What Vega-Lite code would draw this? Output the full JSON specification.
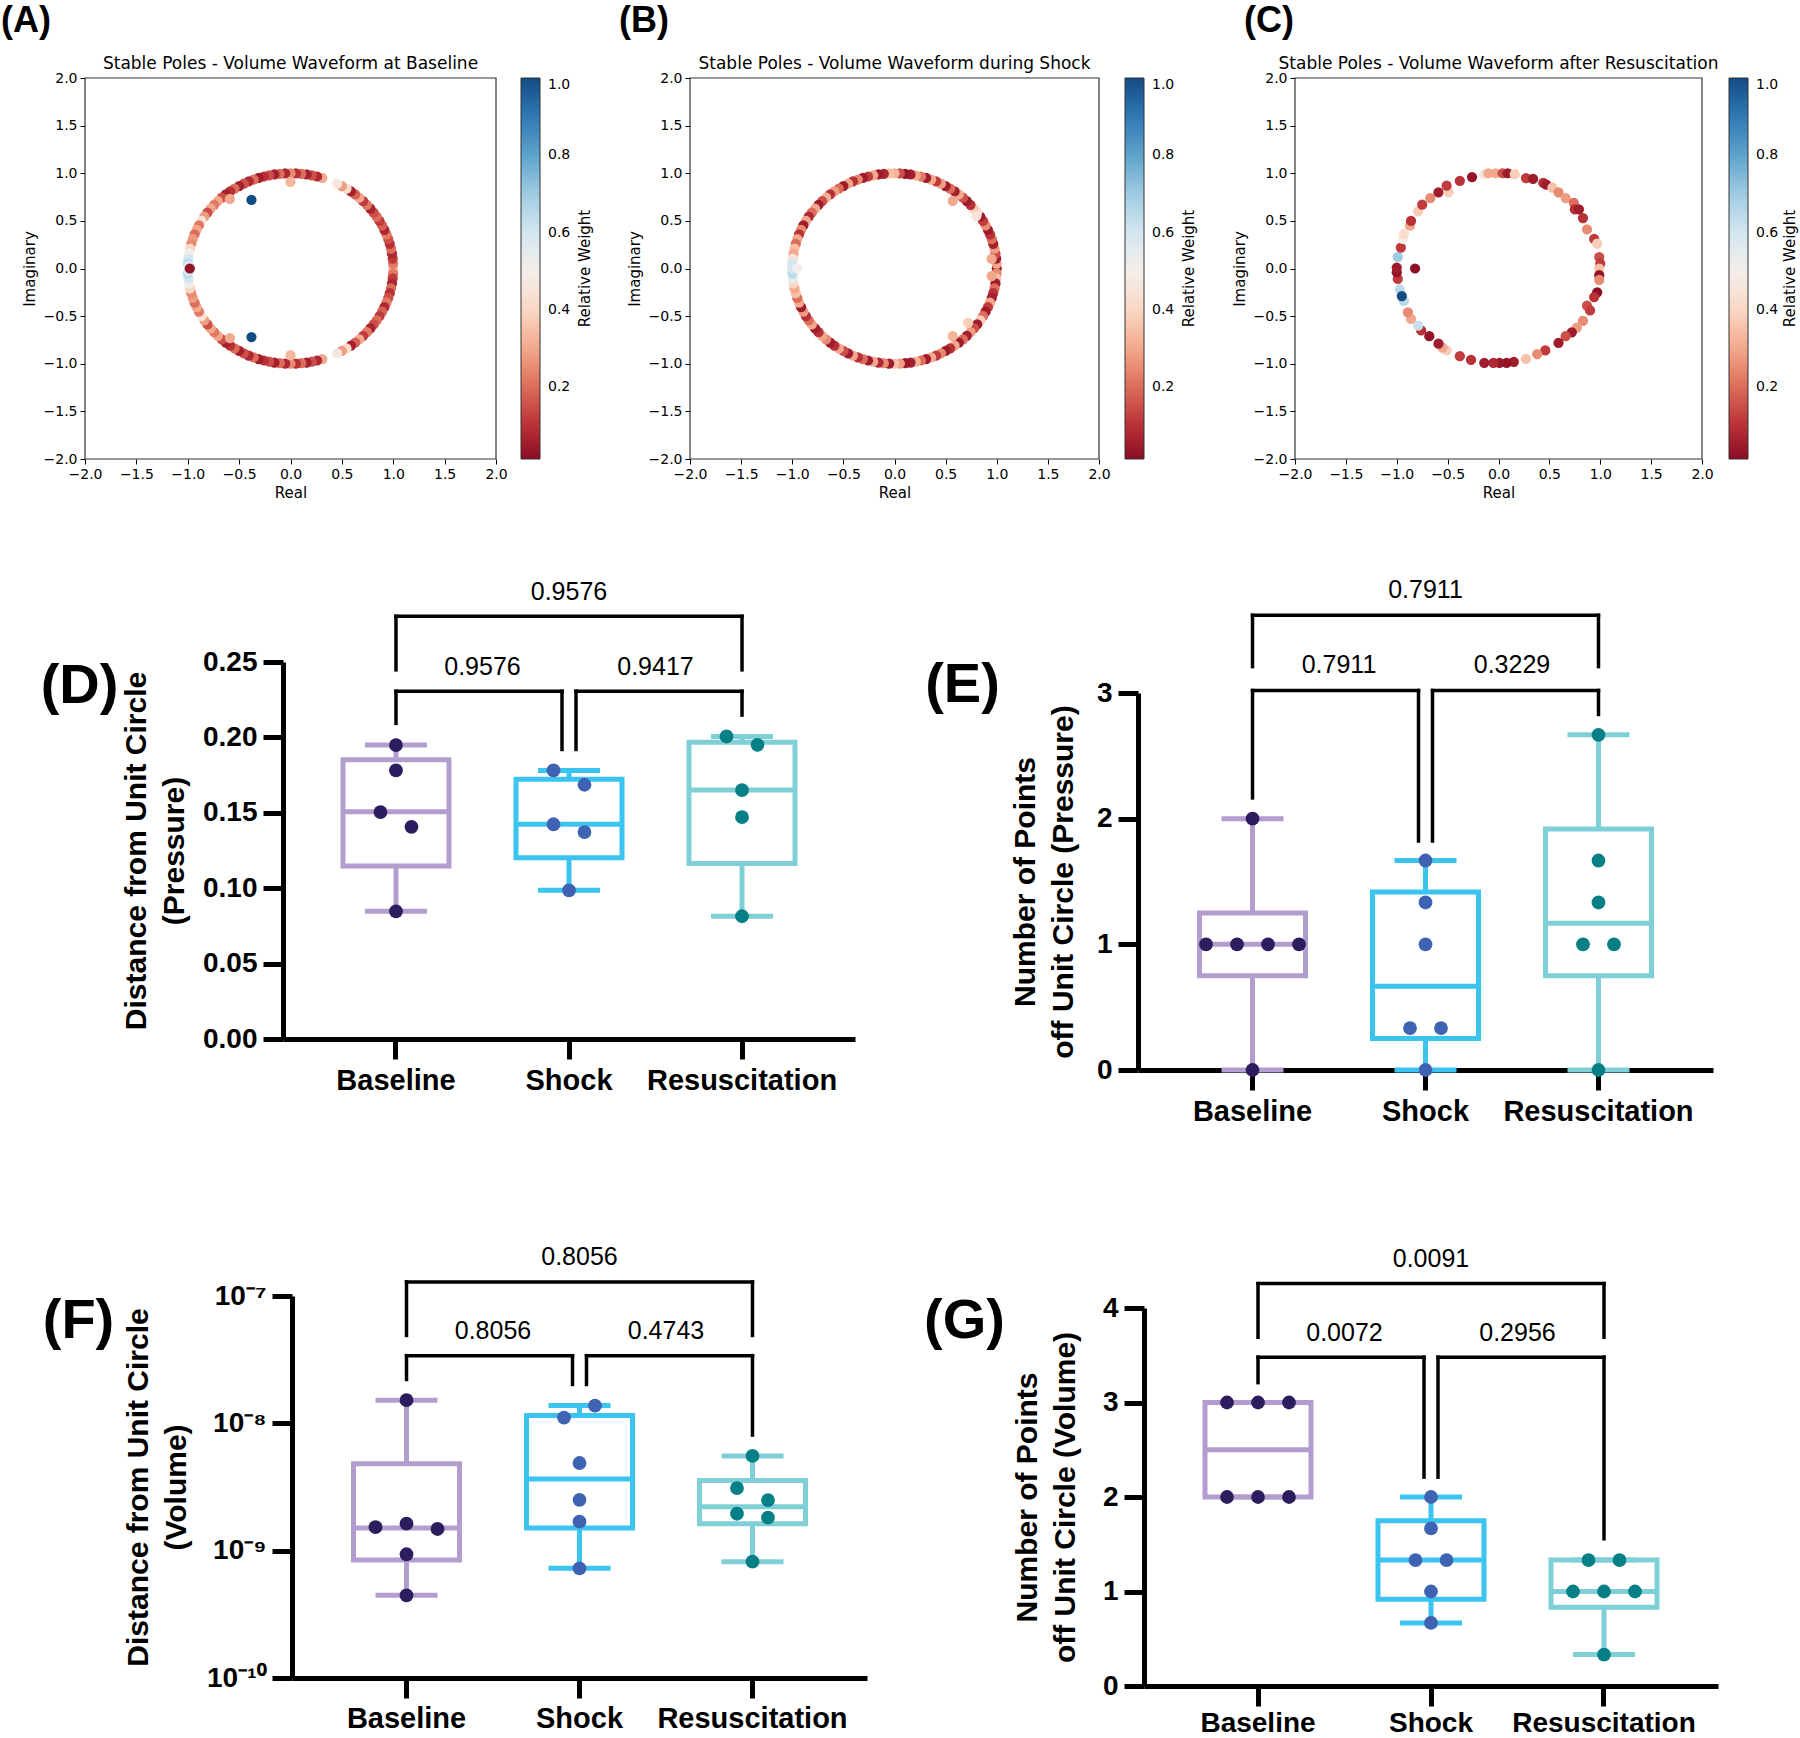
{
"$schema":"https://vega.github.io/schema/vega-lite/v6.json",
"width":1800,"height":1738,"autosize":{"type":"none"},"padding":0,"background":"white",
"config":{"view":{"stroke":null},
 "axis":{"grid":false,"domainColor":"black","domainWidth":5,"tickColor":"black","tickWidth":5,"tickSize":20,"labelFont":"Liberation Sans","labelFontWeight":"bold","labelFontSize":28,"labelColor":"black","labelLimit":0,"titleFont":"Liberation Sans","titleFontWeight":"bold","titleFontSize":30,"titleColor":"black","labelFlush":false,"labelOverlap":false}},
"resolve":{"scale":{"x":"independent","y":"independent","color":"independent","fill":"independent","stroke":"independent","xOffset":"independent"},"axis":{"x":"independent","y":"independent"},"legend":{"color":"independent"}},
"datasets":{
"poles":[
{"p":"A","re":1,"im":0,"w":0.35},
{"p":"A","re":0.9986,"im":0.0523,"w":0.22},{"p":"A","re":0.9945,"im":0.1045,"w":0.12},{"p":"A","re":0.9877,"im":0.1564,"w":0.08},{"p":"A","re":0.9781,"im":0.2079,"w":0.2},{"p":"A","re":0.9659,"im":0.2588,"w":0.1},{"p":"A","re":0.9511,"im":0.309,"w":0.15},{"p":"A","re":0.9336,"im":0.3584,"w":0.22},{"p":"A","re":0.9135,"im":0.4067,"w":0.08},{"p":"A","re":0.891,"im":0.454,"w":0.18},{"p":"A","re":0.866,"im":0.5,"w":0.12},{"p":"A","re":0.8387,"im":0.5446,"w":0.2},{"p":"A","re":0.809,"im":0.5878,"w":0.15},{"p":"A","re":0.7771,"im":0.6293,"w":0.07},{"p":"A","re":0.7431,"im":0.6691,"w":0.22},{"p":"A","re":0.7071,"im":0.7071,"w":0.12},{"p":"A","re":0.6691,"im":0.7431,"w":0.3},{"p":"A","re":0.6293,"im":0.7771,"w":0.18},{"p":"A","re":0.5878,"im":0.809,"w":0.06},{"p":"A","re":0.5446,"im":0.8387,"w":0.42},{"p":"A","re":0.5,"im":0.866,"w":0.28},{"p":"A","re":0.454,"im":0.891,"w":0.47},{"p":"A","re":0.309,"im":0.9511,"w":0.3},{"p":"A","re":0.2588,"im":0.9659,"w":0.08},{"p":"A","re":0.2079,"im":0.9781,"w":0.15},{"p":"A","re":0.1564,"im":0.9877,"w":0.06},{"p":"A","re":0.1045,"im":0.9945,"w":0.2},{"p":"A","re":0.0523,"im":0.9986,"w":0.1},{"p":"A","re":0,"im":1,"w":0.25},{"p":"A","re":-0.0523,"im":0.9986,"w":0.08},{"p":"A","re":-0.1045,"im":0.9945,"w":0.2},{"p":"A","re":-0.1564,"im":0.9877,"w":0.06},{"p":"A","re":-0.2079,"im":0.9781,"w":0.15},{"p":"A","re":-0.2588,"im":0.9659,"w":0.1},{"p":"A","re":-0.309,"im":0.9511,"w":0.05},{"p":"A","re":-0.3584,"im":0.9336,"w":0.2},{"p":"A","re":-0.4067,"im":0.9135,"w":0.08},{"p":"A","re":-0.454,"im":0.891,"w":0.15},{"p":"A","re":-0.5,"im":0.866,"w":0.06},{"p":"A","re":-0.5446,"im":0.8387,"w":0.2},{"p":"A","re":-0.5878,"im":0.809,"w":0.1},{"p":"A","re":-0.6293,"im":0.7771,"w":0.06},{"p":"A","re":-0.6691,"im":0.7431,"w":0.15},{"p":"A","re":-0.7071,"im":0.7071,"w":0.3},{"p":"A","re":-0.7431,"im":0.6691,"w":0.22},{"p":"A","re":-0.7771,"im":0.6293,"w":0.3},{"p":"A","re":-0.809,"im":0.5878,"w":0.15},{"p":"A","re":-0.8387,"im":0.5446,"w":0.28},{"p":"A","re":-0.866,"im":0.5,"w":0.45},{"p":"A","re":-0.891,"im":0.454,"w":0.22},{"p":"A","re":-0.9135,"im":0.4067,"w":0.3},{"p":"A","re":-0.9336,"im":0.3584,"w":0.2},{"p":"A","re":-0.9511,"im":0.309,"w":0.28},{"p":"A","re":-0.9659,"im":0.2588,"w":0.25},{"p":"A","re":-0.9781,"im":0.2079,"w":0.4},{"p":"A","re":-0.9877,"im":0.1564,"w":0.5},{"p":"A","re":-0.9945,"im":0.1045,"w":0.6},{"p":"A","re":-0.9986,"im":0.0523,"w":0.65},
{"p":"A","re":0.9986,"im":-0.0523,"w":0.22},{"p":"A","re":0.9945,"im":-0.1045,"w":0.12},{"p":"A","re":0.9877,"im":-0.1564,"w":0.08},{"p":"A","re":0.9781,"im":-0.2079,"w":0.2},{"p":"A","re":0.9659,"im":-0.2588,"w":0.1},{"p":"A","re":0.9511,"im":-0.309,"w":0.15},{"p":"A","re":0.9336,"im":-0.3584,"w":0.22},{"p":"A","re":0.9135,"im":-0.4067,"w":0.08},{"p":"A","re":0.891,"im":-0.454,"w":0.18},{"p":"A","re":0.866,"im":-0.5,"w":0.12},{"p":"A","re":0.8387,"im":-0.5446,"w":0.2},{"p":"A","re":0.809,"im":-0.5878,"w":0.15},{"p":"A","re":0.7771,"im":-0.6293,"w":0.07},{"p":"A","re":0.7431,"im":-0.6691,"w":0.22},{"p":"A","re":0.7071,"im":-0.7071,"w":0.12},{"p":"A","re":0.6691,"im":-0.7431,"w":0.3},{"p":"A","re":0.6293,"im":-0.7771,"w":0.18},{"p":"A","re":0.5878,"im":-0.809,"w":0.06},{"p":"A","re":0.5446,"im":-0.8387,"w":0.42},{"p":"A","re":0.5,"im":-0.866,"w":0.28},{"p":"A","re":0.454,"im":-0.891,"w":0.47},{"p":"A","re":0.309,"im":-0.9511,"w":0.3},{"p":"A","re":0.2588,"im":-0.9659,"w":0.08},{"p":"A","re":0.2079,"im":-0.9781,"w":0.15},{"p":"A","re":0.1564,"im":-0.9877,"w":0.06},{"p":"A","re":0.1045,"im":-0.9945,"w":0.2},{"p":"A","re":0.0523,"im":-0.9986,"w":0.1},{"p":"A","re":0,"im":-1,"w":0.25},{"p":"A","re":-0.0523,"im":-0.9986,"w":0.08},{"p":"A","re":-0.1045,"im":-0.9945,"w":0.2},{"p":"A","re":-0.1564,"im":-0.9877,"w":0.06},{"p":"A","re":-0.2079,"im":-0.9781,"w":0.15},{"p":"A","re":-0.2588,"im":-0.9659,"w":0.1},{"p":"A","re":-0.309,"im":-0.9511,"w":0.05},{"p":"A","re":-0.3584,"im":-0.9336,"w":0.2},{"p":"A","re":-0.4067,"im":-0.9135,"w":0.08},{"p":"A","re":-0.454,"im":-0.891,"w":0.15},{"p":"A","re":-0.5,"im":-0.866,"w":0.06},{"p":"A","re":-0.5446,"im":-0.8387,"w":0.2},{"p":"A","re":-0.5878,"im":-0.809,"w":0.1},{"p":"A","re":-0.6293,"im":-0.7771,"w":0.06},{"p":"A","re":-0.6691,"im":-0.7431,"w":0.15},{"p":"A","re":-0.7071,"im":-0.7071,"w":0.3},{"p":"A","re":-0.7431,"im":-0.6691,"w":0.22},{"p":"A","re":-0.7771,"im":-0.6293,"w":0.3},{"p":"A","re":-0.809,"im":-0.5878,"w":0.15},{"p":"A","re":-0.8387,"im":-0.5446,"w":0.28},{"p":"A","re":-0.866,"im":-0.5,"w":0.45},{"p":"A","re":-0.891,"im":-0.454,"w":0.22},{"p":"A","re":-0.9135,"im":-0.4067,"w":0.3},{"p":"A","re":-0.9336,"im":-0.3584,"w":0.2},{"p":"A","re":-0.9511,"im":-0.309,"w":0.28},{"p":"A","re":-0.9659,"im":-0.2588,"w":0.25},{"p":"A","re":-0.9781,"im":-0.2079,"w":0.4},{"p":"A","re":-0.9877,"im":-0.1564,"w":0.5},{"p":"A","re":-0.9945,"im":-0.1045,"w":0.6},{"p":"A","re":-0.9986,"im":-0.0523,"w":0.65},
{"p":"A","re":0,"im":0.91,"w":0.33},{"p":"A","re":0,"im":-0.91,"w":0.33},{"p":"A","re":-0.59,"im":0.73,"w":0.3},{"p":"A","re":-0.59,"im":-0.73,"w":0.3},{"p":"A","re":-0.99,"im":0.03,"w":0.6},{"p":"A","re":-0.99,"im":-0.03,"w":0.6},{"p":"A","re":-0.98,"im":0,"w":0.03},{"p":"A","re":-0.38,"im":0.72,"w":1},{"p":"A","re":-0.38,"im":-0.72,"w":1},
{"p":"B","re":1,"im":0,"w":0.06},{"p":"B","re":0.9986,"im":0.0523,"w":0.3},{"p":"B","re":0.9945,"im":0.1045,"w":0.05},{"p":"B","re":0.9877,"im":0.1564,"w":0.15},{"p":"B","re":0.9781,"im":0.2079,"w":0.28},{"p":"B","re":0.9659,"im":0.2588,"w":0.06},{"p":"B","re":0.9511,"im":0.309,"w":0.2},{"p":"B","re":0.9336,"im":0.3584,"w":0.1},{"p":"B","re":0.9135,"im":0.4067,"w":0.05},{"p":"B","re":0.891,"im":0.454,"w":0.25},{"p":"B","re":0.866,"im":0.5,"w":0.12},{"p":"B","re":0.8387,"im":0.5446,"w":0.05},{"p":"B","re":0.809,"im":0.5878,"w":0.42},{"p":"B","re":0.7771,"im":0.6293,"w":0.38},{"p":"B","re":0.7431,"im":0.6691,"w":0.1},{"p":"B","re":0.7071,"im":0.7071,"w":0.05},{"p":"B","re":0.6691,"im":0.7431,"w":0.15},{"p":"B","re":0.6293,"im":0.7771,"w":0.3},{"p":"B","re":0.5878,"im":0.809,"w":0.06},{"p":"B","re":0.5446,"im":0.8387,"w":0.2},{"p":"B","re":0.5,"im":0.866,"w":0.05},{"p":"B","re":0.454,"im":0.891,"w":0.28},{"p":"B","re":0.4067,"im":0.9135,"w":0.12},{"p":"B","re":0.3584,"im":0.9336,"w":0.3},{"p":"B","re":0.309,"im":0.9511,"w":0.05},{"p":"B","re":0.2588,"im":0.9659,"w":0.22},{"p":"B","re":0.2079,"im":0.9781,"w":0.3},{"p":"B","re":0.1564,"im":0.9877,"w":0.06},{"p":"B","re":0.1045,"im":0.9945,"w":0.03},{"p":"B","re":0.0523,"im":0.9986,"w":0.15},{"p":"B","re":0,"im":1,"w":0.33},{"p":"B","re":-0.0523,"im":0.9986,"w":0.35},{"p":"B","re":-0.1045,"im":0.9945,"w":0.08},{"p":"B","re":-0.1564,"im":0.9877,"w":0.05},{"p":"B","re":-0.2079,"im":0.9781,"w":0.3},{"p":"B","re":-0.2588,"im":0.9659,"w":0.12},{"p":"B","re":-0.309,"im":0.9511,"w":0.05},{"p":"B","re":-0.3584,"im":0.9336,"w":0.25},{"p":"B","re":-0.4067,"im":0.9135,"w":0.1},{"p":"B","re":-0.454,"im":0.891,"w":0.3},{"p":"B","re":-0.5,"im":0.866,"w":0.05},{"p":"B","re":-0.5446,"im":0.8387,"w":0.2},{"p":"B","re":-0.5878,"im":0.809,"w":0.28},{"p":"B","re":-0.6293,"im":0.7771,"w":0.1},{"p":"B","re":-0.6691,"im":0.7431,"w":0.32},{"p":"B","re":-0.7071,"im":0.7071,"w":0.15},{"p":"B","re":-0.7431,"im":0.6691,"w":0.05},{"p":"B","re":-0.7771,"im":0.6293,"w":0.3},{"p":"B","re":-0.809,"im":0.5878,"w":0.2},{"p":"B","re":-0.8387,"im":0.5446,"w":0.08},{"p":"B","re":-0.866,"im":0.5,"w":0.3},{"p":"B","re":-0.891,"im":0.454,"w":0.05},{"p":"B","re":-0.9135,"im":0.4067,"w":0.25},{"p":"B","re":-0.9336,"im":0.3584,"w":0.1},{"p":"B","re":-0.9511,"im":0.309,"w":0.3},{"p":"B","re":-0.9659,"im":0.2588,"w":0.2},{"p":"B","re":-0.9781,"im":0.2079,"w":0.35},{"p":"B","re":-0.9877,"im":0.1564,"w":0.3},{"p":"B","re":-0.9945,"im":0.1045,"w":0.45},{"p":"B","re":-0.9986,"im":0.0523,"w":0.6},
{"p":"B","re":0.9986,"im":-0.0523,"w":0.25},{"p":"B","re":0.9945,"im":-0.1045,"w":0.35},{"p":"B","re":0.9877,"im":-0.1564,"w":0.05},{"p":"B","re":0.9781,"im":-0.2079,"w":0.2},{"p":"B","re":0.9659,"im":-0.2588,"w":0.1},{"p":"B","re":0.9511,"im":-0.309,"w":0.06},{"p":"B","re":0.9336,"im":-0.3584,"w":0.3},{"p":"B","re":0.9135,"im":-0.4067,"w":0.12},{"p":"B","re":0.891,"im":-0.454,"w":0.05},{"p":"B","re":0.866,"im":-0.5,"w":0.2},{"p":"B","re":0.8387,"im":-0.5446,"w":0.38},{"p":"B","re":0.809,"im":-0.5878,"w":0.05},{"p":"B","re":0.7771,"im":-0.6293,"w":0.15},{"p":"B","re":0.7431,"im":-0.6691,"w":0.28},{"p":"B","re":0.7071,"im":-0.7071,"w":0.06},{"p":"B","re":0.6691,"im":-0.7431,"w":0.2},{"p":"B","re":0.6293,"im":-0.7771,"w":0.05},{"p":"B","re":0.5878,"im":-0.809,"w":0.3},{"p":"B","re":0.5446,"im":-0.8387,"w":0.1},{"p":"B","re":0.5,"im":-0.866,"w":0.05},{"p":"B","re":0.454,"im":-0.891,"w":0.25},{"p":"B","re":0.4067,"im":-0.9135,"w":0.12},{"p":"B","re":0.3584,"im":-0.9336,"w":0.3},{"p":"B","re":0.309,"im":-0.9511,"w":0.05},{"p":"B","re":0.2588,"im":-0.9659,"w":0.2},{"p":"B","re":0.2079,"im":-0.9781,"w":0.32},{"p":"B","re":0.1564,"im":-0.9877,"w":0.06},{"p":"B","re":0.1045,"im":-0.9945,"w":0.04},{"p":"B","re":0.0523,"im":-0.9986,"w":0.28},{"p":"B","re":0,"im":-1,"w":0.35},{"p":"B","re":-0.0523,"im":-0.9986,"w":0.05},{"p":"B","re":-0.1045,"im":-0.9945,"w":0.25},{"p":"B","re":-0.1564,"im":-0.9877,"w":0.08},{"p":"B","re":-0.2079,"im":-0.9781,"w":0.3},{"p":"B","re":-0.2588,"im":-0.9659,"w":0.05},{"p":"B","re":-0.309,"im":-0.9511,"w":0.2},{"p":"B","re":-0.3584,"im":-0.9336,"w":0.1},{"p":"B","re":-0.4067,"im":-0.9135,"w":0.3},{"p":"B","re":-0.454,"im":-0.891,"w":0.05},{"p":"B","re":-0.5,"im":-0.866,"w":0.15},{"p":"B","re":-0.5446,"im":-0.8387,"w":0.3},{"p":"B","re":-0.5878,"im":-0.809,"w":0.1},{"p":"B","re":-0.6293,"im":-0.7771,"w":0.05},{"p":"B","re":-0.6691,"im":-0.7431,"w":0.25},{"p":"B","re":-0.7071,"im":-0.7071,"w":0.3},{"p":"B","re":-0.7431,"im":-0.6691,"w":0.1},{"p":"B","re":-0.7771,"im":-0.6293,"w":0.05},{"p":"B","re":-0.809,"im":-0.5878,"w":0.3},{"p":"B","re":-0.8387,"im":-0.5446,"w":0.2},{"p":"B","re":-0.866,"im":-0.5,"w":0.1},{"p":"B","re":-0.891,"im":-0.454,"w":0.28},{"p":"B","re":-0.9135,"im":-0.4067,"w":0.05},{"p":"B","re":-0.9336,"im":-0.3584,"w":0.3},{"p":"B","re":-0.9511,"im":-0.309,"w":0.2},{"p":"B","re":-0.9659,"im":-0.2588,"w":0.35},{"p":"B","re":-0.9781,"im":-0.2079,"w":0.3},{"p":"B","re":-0.9877,"im":-0.1564,"w":0.4},{"p":"B","re":-0.9945,"im":-0.1045,"w":0.55},{"p":"B","re":-0.9986,"im":-0.0523,"w":0.65},
{"p":"B","re":-1,"im":0,"w":0.6},{"p":"B","re":-0.95,"im":0,"w":0.5},{"p":"B","re":0.57,"im":0.71,"w":0.3},{"p":"B","re":0.57,"im":-0.71,"w":0.32},{"p":"B","re":0.95,"im":0.1,"w":0.3},{"p":"B","re":0.95,"im":-0.08,"w":0.3},{"p":"B","re":0.72,"im":-0.57,"w":0.38},{"p":"B","re":0.8,"im":0.55,"w":0.45},
{"p":"C","re":-0.26,"im":0.96,"w":0.03},{"p":"C","re":-0.38,"im":0.92,"w":0.1},{"p":"C","re":-0.14,"im":0.99,"w":0.45},{"p":"C","re":-0.1,"im":1,"w":0.3},{"p":"C","re":-0.03,"im":1,"w":0.3},{"p":"C","re":0.04,"im":1,"w":0.15},{"p":"C","re":0.09,"im":1,"w":0.05},{"p":"C","re":0.16,"im":0.99,"w":0.38},{"p":"C","re":0.27,"im":0.95,"w":0.12},{"p":"C","re":0.34,"im":0.94,"w":0.05},{"p":"C","re":0.44,"im":0.9,"w":0.1},{"p":"C","re":0.47,"im":0.88,"w":0.05},{"p":"C","re":0.53,"im":0.85,"w":0.35},{"p":"C","re":0.59,"im":0.8,"w":0.25},{"p":"C","re":0.66,"im":0.74,"w":0.28},{"p":"C","re":0.74,"im":0.69,"w":0.2},{"p":"C","re":0.75,"im":0.62,"w":0.1},{"p":"C","re":0.79,"im":0.62,"w":0.05},{"p":"C","re":0.83,"im":0.53,"w":0.1},{"p":"C","re":0.87,"im":0.41,"w":0.25},{"p":"C","re":0.94,"im":0.31,"w":0.12},{"p":"C","re":0.97,"im":0.26,"w":0.38},{"p":"C","re":0.99,"im":0.12,"w":0.15},{"p":"C","re":1,"im":0.05,"w":0.12},{"p":"C","re":0.99,"im":0,"w":0.35},{"p":"C","re":0.99,"im":-0.07,"w":0.03},{"p":"C","re":0.99,"im":-0.12,"w":0.25},{"p":"C","re":0.97,"im":-0.25,"w":0.02},{"p":"C","re":0.94,"im":-0.3,"w":0.1},{"p":"C","re":0.87,"im":-0.39,"w":0.15},{"p":"C","re":0.9,"im":-0.44,"w":0.12},{"p":"C","re":0.83,"im":-0.55,"w":0.25},{"p":"C","re":0.77,"im":-0.62,"w":0.28},{"p":"C","re":0.72,"im":-0.67,"w":0.05},{"p":"C","re":0.66,"im":-0.71,"w":0.15},{"p":"C","re":0.59,"im":-0.78,"w":0.05},{"p":"C","re":0.46,"im":-0.86,"w":0.12},{"p":"C","re":0.38,"im":-0.9,"w":0.25},{"p":"C","re":0.27,"im":-0.95,"w":0.35},{"p":"C","re":0.15,"im":-0.98,"w":0.05},{"p":"C","re":0.08,"im":-0.99,"w":0.03},{"p":"C","re":0.01,"im":-0.99,"w":0.04},{"p":"C","re":-0.05,"im":-0.99,"w":0.08},{"p":"C","re":-0.14,"im":-0.99,"w":0.05},{"p":"C","re":-0.27,"im":-0.96,"w":0.1},{"p":"C","re":-0.38,"im":-0.92,"w":0.12},{"p":"C","re":-0.51,"im":-0.86,"w":0.38},{"p":"C","re":-0.55,"im":-0.83,"w":0.3},{"p":"C","re":-0.59,"im":-0.79,"w":0.05},{"p":"C","re":-0.68,"im":-0.71,"w":0.03},{"p":"C","re":-0.76,"im":-0.65,"w":0.1},{"p":"C","re":-0.79,"im":-0.6,"w":0.62},{"p":"C","re":-0.86,"im":-0.53,"w":0.3},{"p":"C","re":-0.89,"im":-0.46,"w":0.25},{"p":"C","re":-0.93,"im":-0.34,"w":0.65},{"p":"C","re":-0.97,"im":-0.22,"w":0.65},{"p":"C","re":-0.99,"im":-0.11,"w":0.12},{"p":"C","re":-1,"im":-0.04,"w":0.03},{"p":"C","re":-1,"im":0.01,"w":0.05},{"p":"C","re":-0.99,"im":0.12,"w":0.7},{"p":"C","re":-0.96,"im":0.22,"w":0.12},{"p":"C","re":-0.94,"im":0.31,"w":0.5},{"p":"C","re":-0.93,"im":0.36,"w":0.42},{"p":"C","re":-0.87,"im":0.45,"w":0.3},{"p":"C","re":-0.86,"im":0.5,"w":0.1},{"p":"C","re":-0.79,"im":0.6,"w":0.38},{"p":"C","re":-0.75,"im":0.67,"w":0.12},{"p":"C","re":-0.67,"im":0.74,"w":0.25},{"p":"C","re":-0.59,"im":0.8,"w":0.05},{"p":"C","re":-0.49,"im":0.8,"w":0.38},{"p":"C","re":-0.51,"im":0.87,"w":0.12},{"p":"C","re":-0.82,"im":0,"w":0.02},{"p":"C","re":-0.95,"im":-0.29,"w":1}
],
"stats":[
{"p":"D","g":"Baseline","min":0.0847,"q1":0.1147,"med":0.1507,"q3":0.1852,"max":0.1949},
{"p":"D","g":"Shock","min":0.0986,"q1":0.1202,"med":0.1424,"q3":0.1722,"max":0.1781},
{"p":"D","g":"Resuscitation","min":0.0814,"q1":0.1164,"med":0.1651,"q3":0.1968,"max":0.2006},
{"p":"E","g":"Baseline","min":0,"q1":0.75,"med":1,"q3":1.25,"max":2},
{"p":"E","g":"Shock","min":0,"q1":0.25,"med":0.667,"q3":1.417,"max":1.667},
{"p":"E","g":"Resuscitation","min":0,"q1":0.75,"med":1.167,"q3":1.917,"max":2.667},
{"p":"F","g":"Baseline","min":4.46e-10,"q1":8.45e-10,"med":1.51e-9,"q3":4.82e-9,"max":1.52e-8},
{"p":"F","g":"Shock","min":7.26e-10,"q1":1.51e-9,"med":3.66e-9,"q3":1.15e-8,"max":1.38e-8},
{"p":"F","g":"Resuscitation","min":8.2e-10,"q1":1.63e-9,"med":2.21e-9,"q3":3.55e-9,"max":5.55e-9},
{"p":"G","g":"Baseline","min":2,"q1":2,"med":2.5,"q3":3,"max":3},
{"p":"G","g":"Shock","min":0.667,"q1":0.917,"med":1.333,"q3":1.75,"max":2},
{"p":"G","g":"Resuscitation","min":0.333,"q1":0.833,"med":1,"q3":1.333,"max":1.333}
],
"obs":[
{"p":"D","g":"Baseline","v":0.1949,"j":0},{"p":"D","g":"Baseline","v":0.1781,"j":0},{"p":"D","g":"Baseline","v":0.1504,"j":-0.5},{"p":"D","g":"Baseline","v":0.1407,"j":0.5},{"p":"D","g":"Baseline","v":0.0847,"j":0},
{"p":"D","g":"Shock","v":0.1781,"j":-0.5},{"p":"D","g":"Shock","v":0.1686,"j":0.5},{"p":"D","g":"Shock","v":0.1424,"j":-0.5},{"p":"D","g":"Shock","v":0.1372,"j":0.5},{"p":"D","g":"Shock","v":0.0986,"j":0},
{"p":"D","g":"Resuscitation","v":0.2006,"j":-0.5},{"p":"D","g":"Resuscitation","v":0.1951,"j":0.5},{"p":"D","g":"Resuscitation","v":0.1651,"j":0},{"p":"D","g":"Resuscitation","v":0.1471,"j":0},{"p":"D","g":"Resuscitation","v":0.0814,"j":0},
{"p":"E","g":"Baseline","v":2,"j":0},{"p":"E","g":"Baseline","v":1,"j":-1.5},{"p":"E","g":"Baseline","v":1,"j":-0.5},{"p":"E","g":"Baseline","v":1,"j":0.5},{"p":"E","g":"Baseline","v":1,"j":1.5},{"p":"E","g":"Baseline","v":0,"j":0},
{"p":"E","g":"Shock","v":1.667,"j":0},{"p":"E","g":"Shock","v":1.333,"j":0},{"p":"E","g":"Shock","v":1,"j":0},{"p":"E","g":"Shock","v":0.333,"j":-0.5},{"p":"E","g":"Shock","v":0.333,"j":0.5},{"p":"E","g":"Shock","v":0,"j":0},
{"p":"E","g":"Resuscitation","v":2.667,"j":0},{"p":"E","g":"Resuscitation","v":1.667,"j":0},{"p":"E","g":"Resuscitation","v":1.333,"j":0},{"p":"E","g":"Resuscitation","v":1,"j":-0.5},{"p":"E","g":"Resuscitation","v":1,"j":0.5},{"p":"E","g":"Resuscitation","v":0,"j":0},
{"p":"F","g":"Baseline","v":1.52e-8,"j":0},{"p":"F","g":"Baseline","v":1.63e-9,"j":0},{"p":"F","g":"Baseline","v":1.53e-9,"j":-1},{"p":"F","g":"Baseline","v":1.48e-9,"j":1},{"p":"F","g":"Baseline","v":9.37e-10,"j":0},{"p":"F","g":"Baseline","v":4.46e-10,"j":0},
{"p":"F","g":"Shock","v":1.38e-8,"j":0.5},{"p":"F","g":"Shock","v":1.11e-8,"j":-0.5},{"p":"F","g":"Shock","v":4.88e-9,"j":0},{"p":"F","g":"Shock","v":2.51e-9,"j":0},{"p":"F","g":"Shock","v":1.69e-9,"j":0},{"p":"F","g":"Shock","v":7.26e-10,"j":0},
{"p":"F","g":"Resuscitation","v":5.55e-9,"j":0},{"p":"F","g":"Resuscitation","v":3.1e-9,"j":-0.5},{"p":"F","g":"Resuscitation","v":2.49e-9,"j":0.5},{"p":"F","g":"Resuscitation","v":1.95e-9,"j":-0.5},{"p":"F","g":"Resuscitation","v":1.82e-9,"j":0.5},{"p":"F","g":"Resuscitation","v":8.2e-10,"j":0},
{"p":"G","g":"Baseline","v":3,"j":-1},{"p":"G","g":"Baseline","v":3,"j":0},{"p":"G","g":"Baseline","v":3,"j":1},{"p":"G","g":"Baseline","v":2,"j":-1},{"p":"G","g":"Baseline","v":2,"j":0},{"p":"G","g":"Baseline","v":2,"j":1},
{"p":"G","g":"Shock","v":2,"j":0},{"p":"G","g":"Shock","v":1.667,"j":0},{"p":"G","g":"Shock","v":1.333,"j":-0.5},{"p":"G","g":"Shock","v":1.333,"j":0.5},{"p":"G","g":"Shock","v":1,"j":0},{"p":"G","g":"Shock","v":0.667,"j":0},
{"p":"G","g":"Resuscitation","v":1.333,"j":-0.5},{"p":"G","g":"Resuscitation","v":1.333,"j":0.5},{"p":"G","g":"Resuscitation","v":1,"j":-1},{"p":"G","g":"Resuscitation","v":1,"j":0},{"p":"G","g":"Resuscitation","v":1,"j":1},{"p":"G","g":"Resuscitation","v":0.333,"j":0}
],
"br":[
{"p":"D","L1":0.2803,"ob":0.2448,"orr":0.2448,"L2":0.2306,"ib":0.2093,"isl":0.192,"isr":0.192,"ir":0.2148,"t1":0.2961,"t2":0.2467,"p1":"0.9576","p2":"0.9576","p3":"0.9417"},
{"p":"E","L1":3.618,"ob":3.21,"orr":3.21,"L2":3.02,"ib":2.165,"isl":1.823,"isr":1.823,"ir":2.829,"t1":3.818,"t2":3.219,"p1":"0.7911","p2":"0.7911","p3":"0.3229"},
{"p":"F","L1":1.29e-7,"ob":4.9e-8,"orr":4.9e-8,"L2":3.4e-8,"ib":2.21e-8,"isl":2.02e-8,"isr":2.02e-8,"ir":8.09e-9,"t1":2.04e-7,"t2":5.3e-8,"p1":"0.8056","p2":"0.8056","p3":"0.4743"},
{"p":"G","L1":4.258,"ob":3.69,"orr":3.69,"L2":3.48,"ib":3.21,"isl":2.21,"isr":2.21,"ir":1.558,"t1":4.52,"t2":3.735,"p1":"0.0091","p2":"0.0072","p3":"0.2956"}
]
},
"layer":[
{"layer":[
 {"data":{"name":"poles"},"transform":[{"filter":"datum.p==='A'"}],"mark":{"type":"circle","size":105,"opacity":1},
  "encoding":{
   "x":{"field":"re","type":"quantitative","scale":{"domain":[-2,2],"range":[85,496],"nice":false,"zero":false},"axis":{"orient":"bottom","offset":-1279,"values":[-2,-1.5,-1,-0.5,0,0.5,1,1.5,2],"format":".1f","domain":false,"tickSize":5,"tickWidth":1,"labelFont":"DejaVu Sans","labelFontWeight":"normal","labelFontSize":14,"labelPadding":3,"title":"Real","titleFont":"DejaVu Sans","titleFontWeight":"normal","titleFontSize":15,"titlePadding":4}},
   "y":{"field":"im","type":"quantitative","scale":{"domain":[-2,2],"range":[459,78],"nice":false,"zero":false},"axis":{"orient":"left","offset":-85,"values":[-2,-1.5,-1,-0.5,0,0.5,1,1.5,2],"format":".1f","domain":false,"tickSize":5,"tickWidth":1,"labelFont":"DejaVu Sans","labelFontWeight":"normal","labelFontSize":14,"labelPadding":3,"title":"Imaginary","titleFont":"DejaVu Sans","titleFontWeight":"normal","titleFontSize":15,"titlePadding":6}},
   "color":{"field":"w","type":"quantitative","scale":{"scheme":"redblue","domain":[0.014,1]},"legend":{"orient":"none","legendX":521,"legendY":78,"direction":"vertical","gradientLength":381,"gradientThickness":19,"title":null,"values":[0.2,0.4,0.6,0.8,1.0],"format":".1f","labelFont":"DejaVu Sans","labelFontSize":14,"labelOffset":8,"labelColor":"black","labelBaseline":"middle","gradientStrokeColor":"#333","gradientStrokeWidth":1,"padding":0}}}},
 {"data":{"values":[{}]},"mark":{"type":"rect","fill":null,"stroke":"#333","strokeWidth":1.2},"encoding":{"x":{"datum":-2},"x2":{"datum":2},"y":{"datum":-2},"y2":{"datum":2}}},
 {"data":{"values":[{}]},"mark":{"type":"text","text":"Stable Poles - Volume Waveform at Baseline","font":"DejaVu Sans","fontSize":17,"color":"black","align":"center","baseline":"middle"},"encoding":{"x":{"datum":0},"y":{"datum":2.152}}},
 {"data":{"values":[{}]},"mark":{"type":"text","text":"Relative Weight","angle":270,"font":"DejaVu Sans","fontSize":15,"color":"black","align":"center","baseline":"middle"},"encoding":{"x":{"datum":2.866},"y":{"datum":0}}},
 {"data":{"values":[{}]},"mark":{"type":"text","text":"(A)","font":"Liberation Sans","fontWeight":"bold","fontSize":36,"color":"black","align":"center","baseline":"middle"},"encoding":{"x":{"datum":-2.574},"y":{"datum":2.598}}}
]},
{"layer":[
 {"data":{"name":"poles"},"transform":[{"filter":"datum.p==='B'"}],"mark":{"type":"circle","size":105,"opacity":1},
  "encoding":{
   "x":{"field":"re","type":"quantitative","scale":{"domain":[-2,2],"range":[690,1099],"nice":false,"zero":false},"axis":{"orient":"bottom","offset":-1279,"values":[-2,-1.5,-1,-0.5,0,0.5,1,1.5,2],"format":".1f","domain":false,"tickSize":5,"tickWidth":1,"labelFont":"DejaVu Sans","labelFontWeight":"normal","labelFontSize":14,"labelPadding":3,"title":"Real","titleFont":"DejaVu Sans","titleFontWeight":"normal","titleFontSize":15,"titlePadding":4}},
   "y":{"field":"im","type":"quantitative","scale":{"domain":[-2,2],"range":[459,78],"nice":false,"zero":false},"axis":{"orient":"left","offset":-690,"values":[-2,-1.5,-1,-0.5,0,0.5,1,1.5,2],"format":".1f","domain":false,"tickSize":5,"tickWidth":1,"labelFont":"DejaVu Sans","labelFontWeight":"normal","labelFontSize":14,"labelPadding":3,"title":"Imaginary","titleFont":"DejaVu Sans","titleFontWeight":"normal","titleFontSize":15,"titlePadding":6}},
   "color":{"field":"w","type":"quantitative","scale":{"scheme":"redblue","domain":[0.014,1]},"legend":{"orient":"none","legendX":1125,"legendY":78,"direction":"vertical","gradientLength":381,"gradientThickness":19,"title":null,"values":[0.2,0.4,0.6,0.8,1.0],"format":".1f","labelFont":"DejaVu Sans","labelFontSize":14,"labelOffset":8,"labelColor":"black","labelBaseline":"middle","gradientStrokeColor":"#333","gradientStrokeWidth":1,"padding":0}}}},
 {"data":{"values":[{}]},"mark":{"type":"rect","fill":null,"stroke":"#333","strokeWidth":1.2},"encoding":{"x":{"datum":-2},"x2":{"datum":2},"y":{"datum":-2},"y2":{"datum":2}}},
 {"data":{"values":[{}]},"mark":{"type":"text","text":"Stable Poles - Volume Waveform during Shock","font":"DejaVu Sans","fontSize":17,"color":"black","align":"center","baseline":"middle"},"encoding":{"x":{"datum":0},"y":{"datum":2.152}}},
 {"data":{"values":[{}]},"mark":{"type":"text","text":"Relative Weight","angle":270,"font":"DejaVu Sans","fontSize":15,"color":"black","align":"center","baseline":"middle"},"encoding":{"x":{"datum":2.88},"y":{"datum":0}}},
 {"data":{"values":[{}]},"mark":{"type":"text","text":"(B)","font":"Liberation Sans","fontWeight":"bold","fontSize":36,"color":"black","align":"center","baseline":"middle"},"encoding":{"x":{"datum":-2.45},"y":{"datum":2.598}}}
]},
{"layer":[
 {"data":{"name":"poles"},"transform":[{"filter":"datum.p==='C'"}],"mark":{"type":"circle","size":105,"opacity":1},
  "encoding":{
   "x":{"field":"re","type":"quantitative","scale":{"domain":[-2,2],"range":[1295,1702],"nice":false,"zero":false},"axis":{"orient":"bottom","offset":-1279,"values":[-2,-1.5,-1,-0.5,0,0.5,1,1.5,2],"format":".1f","domain":false,"tickSize":5,"tickWidth":1,"labelFont":"DejaVu Sans","labelFontWeight":"normal","labelFontSize":14,"labelPadding":3,"title":"Real","titleFont":"DejaVu Sans","titleFontWeight":"normal","titleFontSize":15,"titlePadding":4}},
   "y":{"field":"im","type":"quantitative","scale":{"domain":[-2,2],"range":[459,78],"nice":false,"zero":false},"axis":{"orient":"left","offset":-1295,"values":[-2,-1.5,-1,-0.5,0,0.5,1,1.5,2],"format":".1f","domain":false,"tickSize":5,"tickWidth":1,"labelFont":"DejaVu Sans","labelFontWeight":"normal","labelFontSize":14,"labelPadding":3,"title":"Imaginary","titleFont":"DejaVu Sans","titleFontWeight":"normal","titleFontSize":15,"titlePadding":6}},
   "color":{"field":"w","type":"quantitative","scale":{"scheme":"redblue","domain":[0.014,1]},"legend":{"orient":"none","legendX":1729,"legendY":78,"direction":"vertical","gradientLength":381,"gradientThickness":19,"title":null,"values":[0.2,0.4,0.6,0.8,1.0],"format":".1f","labelFont":"DejaVu Sans","labelFontSize":14,"labelOffset":8,"labelColor":"black","labelBaseline":"middle","gradientStrokeColor":"#333","gradientStrokeWidth":1,"padding":0}}}},
 {"data":{"values":[{}]},"mark":{"type":"rect","fill":null,"stroke":"#333","strokeWidth":1.2},"encoding":{"x":{"datum":-2},"x2":{"datum":2},"y":{"datum":-2},"y2":{"datum":2}}},
 {"data":{"values":[{}]},"mark":{"type":"text","text":"Stable Poles - Volume Waveform after Resuscitation","font":"DejaVu Sans","fontSize":17,"color":"black","align":"center","baseline":"middle"},"encoding":{"x":{"datum":0},"y":{"datum":2.152}}},
 {"data":{"values":[{}]},"mark":{"type":"text","text":"Relative Weight","angle":270,"font":"DejaVu Sans","fontSize":15,"color":"black","align":"center","baseline":"middle"},"encoding":{"x":{"datum":2.86},"y":{"datum":0}}},
 {"data":{"values":[{}]},"mark":{"type":"text","text":"(C)","font":"Liberation Sans","fontWeight":"bold","fontSize":36,"color":"black","align":"center","baseline":"middle"},"encoding":{"x":{"datum":-2.255},"y":{"datum":2.598}}}
]},
{"layer":[
 {"data":{"name":"stats"},"transform":[{"filter":"datum.p==='D'"}],"mark":{"type":"rule","strokeWidth":5},
  "encoding":{
   "x":{"field":"g","type":"nominal","scale":{"type":"band","domain":["Baseline","Shock","Resuscitation"],"range":[283,855],"paddingInner":0,"paddingOuter":0.153},"axis":{"orient":"bottom","offset":-699,"labelAngle":0,"labelPadding":7,"labelFontSize":29,"title":"(D)","titleX":79,"titleY":-354,"titleAngle":0,"titleAlign":"center","titleBaseline":"middle","titleFontSize":56}},
   "y":{"field":"min","type":"quantitative","scale":{"domain":[0,0.25],"range":[1039,662],"nice":false,"zero":false},"axis":{"orient":"left","offset":-283,"values":[0,0.05,0.1,0.15,0.2,0.25],"format":".2f","labelPadding":6,"title":["Distance from Unit Circle","(Pressure)"],"titleLineHeight":38,"titlePadding":13}},
   "y2":{"field":"max"},
   "stroke":{"field":"g","type":"nominal","scale":{"domain":["Baseline","Shock","Resuscitation"],"range":["#B29DCE","#3CC4F0","#7FCFD7"]},"legend":null}}},
 {"data":{"name":"stats"},"transform":[{"filter":"datum.p==='D'"}],"mark":{"type":"bar","fill":"white","strokeWidth":5,"width":106},"encoding":{"x":{"field":"g","type":"nominal"},"y":{"field":"q1","type":"quantitative"},"y2":{"field":"q3"},"stroke":{"field":"g","type":"nominal"}}},
 {"data":{"name":"stats"},"transform":[{"filter":"datum.p==='D'"}],"mark":{"type":"rule","strokeWidth":5,"xOffset":-53,"x2Offset":53},"encoding":{"x":{"field":"g","type":"nominal"},"x2":{"field":"g"},"y":{"field":"med","type":"quantitative"},"stroke":{"field":"g","type":"nominal"}}},
 {"data":{"name":"stats"},"transform":[{"filter":"datum.p==='D'"}],"mark":{"type":"rule","strokeWidth":5,"xOffset":-31,"x2Offset":31},"encoding":{"x":{"field":"g","type":"nominal"},"x2":{"field":"g"},"y":{"field":"min","type":"quantitative"},"stroke":{"field":"g","type":"nominal"}}},
 {"data":{"name":"stats"},"transform":[{"filter":"datum.p==='D'"}],"mark":{"type":"rule","strokeWidth":5,"xOffset":-31,"x2Offset":31},"encoding":{"x":{"field":"g","type":"nominal"},"x2":{"field":"g"},"y":{"field":"max","type":"quantitative"},"stroke":{"field":"g","type":"nominal"}}},
 {"data":{"name":"obs"},"transform":[{"filter":"datum.p==='D'"}],"mark":{"type":"point","filled":true,"size":190,"opacity":1},"encoding":{"x":{"field":"g","type":"nominal"},"xOffset":{"field":"j","type":"quantitative","scale":{"domain":[-2,2],"range":[24.5,148.5]}},"y":{"field":"v","type":"quantitative"},"fill":{"field":"g","type":"nominal","scale":{"domain":["Baseline","Shock","Resuscitation"],"range":["#2E1D5E","#3E63B2","#067F86"]},"legend":null}}},
 {"data":{"name":"br"},"transform":[{"filter":"datum.p==='D'"}],"mark":{"type":"rule","strokeWidth":3.5,"color":"black","strokeCap":"square"},"encoding":{"x":{"datum":"Baseline"},"x2":{"datum":"Resuscitation"},"y":{"field":"L1","type":"quantitative"}}},
 {"data":{"name":"br"},"transform":[{"filter":"datum.p==='D'"}],"mark":{"type":"rule","strokeWidth":3.5,"color":"black","strokeCap":"square"},"encoding":{"x":{"datum":"Baseline"},"y":{"field":"ob","type":"quantitative"},"y2":{"field":"L1"}}},
 {"data":{"name":"br"},"transform":[{"filter":"datum.p==='D'"}],"mark":{"type":"rule","strokeWidth":3.5,"color":"black","strokeCap":"square"},"encoding":{"x":{"datum":"Resuscitation"},"y":{"field":"orr","type":"quantitative"},"y2":{"field":"L1"}}},
 {"data":{"name":"br"},"transform":[{"filter":"datum.p==='D'"}],"mark":{"type":"rule","strokeWidth":3.5,"color":"black","strokeCap":"square","x2Offset":-7},"encoding":{"x":{"datum":"Baseline"},"x2":{"datum":"Shock"},"y":{"field":"L2","type":"quantitative"}}},
 {"data":{"name":"br"},"transform":[{"filter":"datum.p==='D'"}],"mark":{"type":"rule","strokeWidth":3.5,"color":"black","strokeCap":"square"},"encoding":{"x":{"datum":"Baseline"},"y":{"field":"ib","type":"quantitative"},"y2":{"field":"L2"}}},
 {"data":{"name":"br"},"transform":[{"filter":"datum.p==='D'"}],"mark":{"type":"rule","strokeWidth":3.5,"color":"black","strokeCap":"square","xOffset":-7},"encoding":{"x":{"datum":"Shock"},"y":{"field":"isl","type":"quantitative"},"y2":{"field":"L2"}}},
 {"data":{"name":"br"},"transform":[{"filter":"datum.p==='D'"}],"mark":{"type":"rule","strokeWidth":3.5,"color":"black","strokeCap":"square","xOffset":7},"encoding":{"x":{"datum":"Shock"},"x2":{"datum":"Resuscitation"},"y":{"field":"L2","type":"quantitative"}}},
 {"data":{"name":"br"},"transform":[{"filter":"datum.p==='D'"}],"mark":{"type":"rule","strokeWidth":3.5,"color":"black","strokeCap":"square","xOffset":7},"encoding":{"x":{"datum":"Shock"},"y":{"field":"isr","type":"quantitative"},"y2":{"field":"L2"}}},
 {"data":{"name":"br"},"transform":[{"filter":"datum.p==='D'"}],"mark":{"type":"rule","strokeWidth":3.5,"color":"black","strokeCap":"square"},"encoding":{"x":{"datum":"Resuscitation"},"y":{"field":"ir","type":"quantitative"},"y2":{"field":"L2"}}},
 {"data":{"name":"br"},"transform":[{"filter":"datum.p==='D'"}],"mark":{"type":"text","font":"Liberation Sans","fontSize":25,"color":"black","align":"center","baseline":"middle"},"encoding":{"x":{"datum":"Shock"},"y":{"field":"t1","type":"quantitative"},"text":{"field":"p1"}}},
 {"data":{"name":"br"},"transform":[{"filter":"datum.p==='D'"}],"mark":{"type":"text","font":"Liberation Sans","fontSize":25,"color":"black","align":"center","baseline":"middle"},"encoding":{"x":{"datum":"Baseline","bandPosition":1},"y":{"field":"t2","type":"quantitative"},"text":{"field":"p2"}}},
 {"data":{"name":"br"},"transform":[{"filter":"datum.p==='D'"}],"mark":{"type":"text","font":"Liberation Sans","fontSize":25,"color":"black","align":"center","baseline":"middle"},"encoding":{"x":{"datum":"Shock","bandPosition":1},"y":{"field":"t2","type":"quantitative"},"text":{"field":"p3"}}}
]},
{"layer":[
 {"data":{"name":"stats"},"transform":[{"filter":"datum.p==='E'"}],"mark":{"type":"rule","strokeWidth":5},
  "encoding":{
   "x":{"field":"g","type":"nominal","scale":{"type":"band","domain":["Baseline","Shock","Resuscitation"],"range":[1138,1713],"paddingInner":0,"paddingOuter":0.162},"axis":{"orient":"bottom","offset":-668,"labelAngle":0,"labelPadding":7,"labelFontSize":29,"title":"(E)","titleX":962,"titleY":-386,"titleAngle":0,"titleAlign":"center","titleBaseline":"middle","titleFontSize":56}},
   "y":{"field":"min","type":"quantitative","scale":{"domain":[0,3],"range":[1070,693],"nice":false,"zero":false},"axis":{"orient":"left","offset":-1138,"values":[0,1,2,3],"format":"d","labelPadding":6,"title":["Number of Points","off Unit Circle (Pressure)"],"titleLineHeight":38,"titlePadding":18}},
   "y2":{"field":"max"},
   "stroke":{"field":"g","type":"nominal","scale":{"domain":["Baseline","Shock","Resuscitation"],"range":["#B29DCE","#3CC4F0","#7FCFD7"]},"legend":null}}},
 {"data":{"name":"stats"},"transform":[{"filter":"datum.p==='E'"}],"mark":{"type":"bar","fill":"white","strokeWidth":5,"width":106},"encoding":{"x":{"field":"g","type":"nominal"},"y":{"field":"q1","type":"quantitative"},"y2":{"field":"q3"},"stroke":{"field":"g","type":"nominal"}}},
 {"data":{"name":"stats"},"transform":[{"filter":"datum.p==='E'"}],"mark":{"type":"rule","strokeWidth":5,"xOffset":-53,"x2Offset":53},"encoding":{"x":{"field":"g","type":"nominal"},"x2":{"field":"g"},"y":{"field":"med","type":"quantitative"},"stroke":{"field":"g","type":"nominal"}}},
 {"data":{"name":"stats"},"transform":[{"filter":"datum.p==='E'"}],"mark":{"type":"rule","strokeWidth":5,"xOffset":-31,"x2Offset":31},"encoding":{"x":{"field":"g","type":"nominal"},"x2":{"field":"g"},"y":{"field":"min","type":"quantitative"},"stroke":{"field":"g","type":"nominal"}}},
 {"data":{"name":"stats"},"transform":[{"filter":"datum.p==='E'"}],"mark":{"type":"rule","strokeWidth":5,"xOffset":-31,"x2Offset":31},"encoding":{"x":{"field":"g","type":"nominal"},"x2":{"field":"g"},"y":{"field":"max","type":"quantitative"},"stroke":{"field":"g","type":"nominal"}}},
 {"data":{"name":"obs"},"transform":[{"filter":"datum.p==='E'"}],"mark":{"type":"point","filled":true,"size":190,"opacity":1},"encoding":{"x":{"field":"g","type":"nominal"},"xOffset":{"field":"j","type":"quantitative","scale":{"domain":[-2,2],"range":[24.5,148.5]}},"y":{"field":"v","type":"quantitative"},"fill":{"field":"g","type":"nominal","scale":{"domain":["Baseline","Shock","Resuscitation"],"range":["#2E1D5E","#3E63B2","#067F86"]},"legend":null}}},
 {"data":{"name":"br"},"transform":[{"filter":"datum.p==='E'"}],"mark":{"type":"rule","strokeWidth":3.5,"color":"black","strokeCap":"square"},"encoding":{"x":{"datum":"Baseline"},"x2":{"datum":"Resuscitation"},"y":{"field":"L1","type":"quantitative"}}},
 {"data":{"name":"br"},"transform":[{"filter":"datum.p==='E'"}],"mark":{"type":"rule","strokeWidth":3.5,"color":"black","strokeCap":"square"},"encoding":{"x":{"datum":"Baseline"},"y":{"field":"ob","type":"quantitative"},"y2":{"field":"L1"}}},
 {"data":{"name":"br"},"transform":[{"filter":"datum.p==='E'"}],"mark":{"type":"rule","strokeWidth":3.5,"color":"black","strokeCap":"square"},"encoding":{"x":{"datum":"Resuscitation"},"y":{"field":"orr","type":"quantitative"},"y2":{"field":"L1"}}},
 {"data":{"name":"br"},"transform":[{"filter":"datum.p==='E'"}],"mark":{"type":"rule","strokeWidth":3.5,"color":"black","strokeCap":"square","x2Offset":-7},"encoding":{"x":{"datum":"Baseline"},"x2":{"datum":"Shock"},"y":{"field":"L2","type":"quantitative"}}},
 {"data":{"name":"br"},"transform":[{"filter":"datum.p==='E'"}],"mark":{"type":"rule","strokeWidth":3.5,"color":"black","strokeCap":"square"},"encoding":{"x":{"datum":"Baseline"},"y":{"field":"ib","type":"quantitative"},"y2":{"field":"L2"}}},
 {"data":{"name":"br"},"transform":[{"filter":"datum.p==='E'"}],"mark":{"type":"rule","strokeWidth":3.5,"color":"black","strokeCap":"square","xOffset":-7},"encoding":{"x":{"datum":"Shock"},"y":{"field":"isl","type":"quantitative"},"y2":{"field":"L2"}}},
 {"data":{"name":"br"},"transform":[{"filter":"datum.p==='E'"}],"mark":{"type":"rule","strokeWidth":3.5,"color":"black","strokeCap":"square","xOffset":7},"encoding":{"x":{"datum":"Shock"},"x2":{"datum":"Resuscitation"},"y":{"field":"L2","type":"quantitative"}}},
 {"data":{"name":"br"},"transform":[{"filter":"datum.p==='E'"}],"mark":{"type":"rule","strokeWidth":3.5,"color":"black","strokeCap":"square","xOffset":7},"encoding":{"x":{"datum":"Shock"},"y":{"field":"isr","type":"quantitative"},"y2":{"field":"L2"}}},
 {"data":{"name":"br"},"transform":[{"filter":"datum.p==='E'"}],"mark":{"type":"rule","strokeWidth":3.5,"color":"black","strokeCap":"square"},"encoding":{"x":{"datum":"Resuscitation"},"y":{"field":"ir","type":"quantitative"},"y2":{"field":"L2"}}},
 {"data":{"name":"br"},"transform":[{"filter":"datum.p==='E'"}],"mark":{"type":"text","font":"Liberation Sans","fontSize":25,"color":"black","align":"center","baseline":"middle"},"encoding":{"x":{"datum":"Shock"},"y":{"field":"t1","type":"quantitative"},"text":{"field":"p1"}}},
 {"data":{"name":"br"},"transform":[{"filter":"datum.p==='E'"}],"mark":{"type":"text","font":"Liberation Sans","fontSize":25,"color":"black","align":"center","baseline":"middle"},"encoding":{"x":{"datum":"Baseline","bandPosition":1},"y":{"field":"t2","type":"quantitative"},"text":{"field":"p2"}}},
 {"data":{"name":"br"},"transform":[{"filter":"datum.p==='E'"}],"mark":{"type":"text","font":"Liberation Sans","fontSize":25,"color":"black","align":"center","baseline":"middle"},"encoding":{"x":{"datum":"Shock","bandPosition":1},"y":{"field":"t2","type":"quantitative"},"text":{"field":"p3"}}}
]},
{"layer":[
 {"data":{"name":"stats"},"transform":[{"filter":"datum.p==='F'"}],"mark":{"type":"rule","strokeWidth":5},
  "encoding":{
   "x":{"field":"g","type":"nominal","scale":{"type":"band","domain":["Baseline","Shock","Resuscitation"],"range":[292,867],"paddingInner":0,"paddingOuter":0.162},"axis":{"orient":"bottom","offset":-60,"labelAngle":0,"labelPadding":6,"labelFontSize":29,"title":"(F)","titleX":78,"titleY":-358,"titleAngle":0,"titleAlign":"center","titleBaseline":"middle","titleFontSize":56}},
   "y":{"field":"min","type":"quantitative","scale":{"type":"log","domain":[1e-10,1e-7],"range":[1678,1296],"nice":false},"axis":{"orient":"left","offset":-292,"values":[1e-10,1e-9,1e-8,1e-7],"labelExpr":"datum.value < 3e-10 ? '10⁻¹⁰' : datum.value < 3e-9 ? '10⁻⁹' : datum.value < 3e-8 ? '10⁻⁸' : '10⁻⁷'","labelPadding":6,"title":["Distance from Unit Circle","(Volume)"],"titleLineHeight":38,"titlePadding":15}},
   "y2":{"field":"max"},
   "stroke":{"field":"g","type":"nominal","scale":{"domain":["Baseline","Shock","Resuscitation"],"range":["#B29DCE","#3CC4F0","#7FCFD7"]},"legend":null}}},
 {"data":{"name":"stats"},"transform":[{"filter":"datum.p==='F'"}],"mark":{"type":"bar","fill":"white","strokeWidth":5,"width":106},"encoding":{"x":{"field":"g","type":"nominal"},"y":{"field":"q1","type":"quantitative"},"y2":{"field":"q3"},"stroke":{"field":"g","type":"nominal"}}},
 {"data":{"name":"stats"},"transform":[{"filter":"datum.p==='F'"}],"mark":{"type":"rule","strokeWidth":5,"xOffset":-53,"x2Offset":53},"encoding":{"x":{"field":"g","type":"nominal"},"x2":{"field":"g"},"y":{"field":"med","type":"quantitative"},"stroke":{"field":"g","type":"nominal"}}},
 {"data":{"name":"stats"},"transform":[{"filter":"datum.p==='F'"}],"mark":{"type":"rule","strokeWidth":5,"xOffset":-31,"x2Offset":31},"encoding":{"x":{"field":"g","type":"nominal"},"x2":{"field":"g"},"y":{"field":"min","type":"quantitative"},"stroke":{"field":"g","type":"nominal"}}},
 {"data":{"name":"stats"},"transform":[{"filter":"datum.p==='F'"}],"mark":{"type":"rule","strokeWidth":5,"xOffset":-31,"x2Offset":31},"encoding":{"x":{"field":"g","type":"nominal"},"x2":{"field":"g"},"y":{"field":"max","type":"quantitative"},"stroke":{"field":"g","type":"nominal"}}},
 {"data":{"name":"obs"},"transform":[{"filter":"datum.p==='F'"}],"mark":{"type":"point","filled":true,"size":190,"opacity":1},"encoding":{"x":{"field":"g","type":"nominal"},"xOffset":{"field":"j","type":"quantitative","scale":{"domain":[-2,2],"range":[24.5,148.5]}},"y":{"field":"v","type":"quantitative"},"fill":{"field":"g","type":"nominal","scale":{"domain":["Baseline","Shock","Resuscitation"],"range":["#2E1D5E","#3E63B2","#067F86"]},"legend":null}}},
 {"data":{"name":"br"},"transform":[{"filter":"datum.p==='F'"}],"mark":{"type":"rule","strokeWidth":3.5,"color":"black","strokeCap":"square"},"encoding":{"x":{"datum":"Baseline"},"x2":{"datum":"Resuscitation"},"y":{"field":"L1","type":"quantitative"}}},
 {"data":{"name":"br"},"transform":[{"filter":"datum.p==='F'"}],"mark":{"type":"rule","strokeWidth":3.5,"color":"black","strokeCap":"square"},"encoding":{"x":{"datum":"Baseline"},"y":{"field":"ob","type":"quantitative"},"y2":{"field":"L1"}}},
 {"data":{"name":"br"},"transform":[{"filter":"datum.p==='F'"}],"mark":{"type":"rule","strokeWidth":3.5,"color":"black","strokeCap":"square"},"encoding":{"x":{"datum":"Resuscitation"},"y":{"field":"orr","type":"quantitative"},"y2":{"field":"L1"}}},
 {"data":{"name":"br"},"transform":[{"filter":"datum.p==='F'"}],"mark":{"type":"rule","strokeWidth":3.5,"color":"black","strokeCap":"square","x2Offset":-7},"encoding":{"x":{"datum":"Baseline"},"x2":{"datum":"Shock"},"y":{"field":"L2","type":"quantitative"}}},
 {"data":{"name":"br"},"transform":[{"filter":"datum.p==='F'"}],"mark":{"type":"rule","strokeWidth":3.5,"color":"black","strokeCap":"square"},"encoding":{"x":{"datum":"Baseline"},"y":{"field":"ib","type":"quantitative"},"y2":{"field":"L2"}}},
 {"data":{"name":"br"},"transform":[{"filter":"datum.p==='F'"}],"mark":{"type":"rule","strokeWidth":3.5,"color":"black","strokeCap":"square","xOffset":-7},"encoding":{"x":{"datum":"Shock"},"y":{"field":"isl","type":"quantitative"},"y2":{"field":"L2"}}},
 {"data":{"name":"br"},"transform":[{"filter":"datum.p==='F'"}],"mark":{"type":"rule","strokeWidth":3.5,"color":"black","strokeCap":"square","xOffset":7},"encoding":{"x":{"datum":"Shock"},"x2":{"datum":"Resuscitation"},"y":{"field":"L2","type":"quantitative"}}},
 {"data":{"name":"br"},"transform":[{"filter":"datum.p==='F'"}],"mark":{"type":"rule","strokeWidth":3.5,"color":"black","strokeCap":"square","xOffset":7},"encoding":{"x":{"datum":"Shock"},"y":{"field":"isr","type":"quantitative"},"y2":{"field":"L2"}}},
 {"data":{"name":"br"},"transform":[{"filter":"datum.p==='F'"}],"mark":{"type":"rule","strokeWidth":3.5,"color":"black","strokeCap":"square"},"encoding":{"x":{"datum":"Resuscitation"},"y":{"field":"ir","type":"quantitative"},"y2":{"field":"L2"}}},
 {"data":{"name":"br"},"transform":[{"filter":"datum.p==='F'"}],"mark":{"type":"text","font":"Liberation Sans","fontSize":25,"color":"black","align":"center","baseline":"middle"},"encoding":{"x":{"datum":"Shock"},"y":{"field":"t1","type":"quantitative"},"text":{"field":"p1"}}},
 {"data":{"name":"br"},"transform":[{"filter":"datum.p==='F'"}],"mark":{"type":"text","font":"Liberation Sans","fontSize":25,"color":"black","align":"center","baseline":"middle"},"encoding":{"x":{"datum":"Baseline","bandPosition":1},"y":{"field":"t2","type":"quantitative"},"text":{"field":"p2"}}},
 {"data":{"name":"br"},"transform":[{"filter":"datum.p==='F'"}],"mark":{"type":"text","font":"Liberation Sans","fontSize":25,"color":"black","align":"center","baseline":"middle"},"encoding":{"x":{"datum":"Shock","bandPosition":1},"y":{"field":"t2","type":"quantitative"},"text":{"field":"p3"}}}
]},
{"layer":[
 {"data":{"name":"stats"},"transform":[{"filter":"datum.p==='G'"}],"mark":{"type":"rule","strokeWidth":5},
  "encoding":{
   "x":{"field":"g","type":"nominal","scale":{"type":"band","domain":["Baseline","Shock","Resuscitation"],"range":[1144,1718],"paddingInner":0,"paddingOuter":0.159},"axis":{"orient":"bottom","offset":-52,"labelAngle":0,"labelPadding":3,"labelFontSize":28,"title":"(G)","titleX":964,"titleY":-366,"titleAngle":0,"titleAlign":"center","titleBaseline":"middle","titleFontSize":56}},
   "y":{"field":"min","type":"quantitative","scale":{"domain":[0,4],"range":[1686,1308],"nice":false,"zero":false},"axis":{"orient":"left","offset":-1144,"values":[0,1,2,3,4],"format":"d","labelPadding":6,"title":["Number of Points","off Unit Circle (Volume)"],"titleLineHeight":38,"titlePadding":22}},
   "y2":{"field":"max"},
   "stroke":{"field":"g","type":"nominal","scale":{"domain":["Baseline","Shock","Resuscitation"],"range":["#B29DCE","#3CC4F0","#7FCFD7"]},"legend":null}}},
 {"data":{"name":"stats"},"transform":[{"filter":"datum.p==='G'"}],"mark":{"type":"bar","fill":"white","strokeWidth":5,"width":106},"encoding":{"x":{"field":"g","type":"nominal"},"y":{"field":"q1","type":"quantitative"},"y2":{"field":"q3"},"stroke":{"field":"g","type":"nominal"}}},
 {"data":{"name":"stats"},"transform":[{"filter":"datum.p==='G'"}],"mark":{"type":"rule","strokeWidth":5,"xOffset":-53,"x2Offset":53},"encoding":{"x":{"field":"g","type":"nominal"},"x2":{"field":"g"},"y":{"field":"med","type":"quantitative"},"stroke":{"field":"g","type":"nominal"}}},
 {"data":{"name":"stats"},"transform":[{"filter":"datum.p==='G'"}],"mark":{"type":"rule","strokeWidth":5,"xOffset":-31,"x2Offset":31},"encoding":{"x":{"field":"g","type":"nominal"},"x2":{"field":"g"},"y":{"field":"min","type":"quantitative"},"stroke":{"field":"g","type":"nominal"}}},
 {"data":{"name":"stats"},"transform":[{"filter":"datum.p==='G'"}],"mark":{"type":"rule","strokeWidth":5,"xOffset":-31,"x2Offset":31},"encoding":{"x":{"field":"g","type":"nominal"},"x2":{"field":"g"},"y":{"field":"max","type":"quantitative"},"stroke":{"field":"g","type":"nominal"}}},
 {"data":{"name":"obs"},"transform":[{"filter":"datum.p==='G'"}],"mark":{"type":"point","filled":true,"size":190,"opacity":1},"encoding":{"x":{"field":"g","type":"nominal"},"xOffset":{"field":"j","type":"quantitative","scale":{"domain":[-2,2],"range":[24.5,148.5]}},"y":{"field":"v","type":"quantitative"},"fill":{"field":"g","type":"nominal","scale":{"domain":["Baseline","Shock","Resuscitation"],"range":["#2E1D5E","#3E63B2","#067F86"]},"legend":null}}},
 {"data":{"name":"br"},"transform":[{"filter":"datum.p==='G'"}],"mark":{"type":"rule","strokeWidth":3.5,"color":"black","strokeCap":"square"},"encoding":{"x":{"datum":"Baseline"},"x2":{"datum":"Resuscitation"},"y":{"field":"L1","type":"quantitative"}}},
 {"data":{"name":"br"},"transform":[{"filter":"datum.p==='G'"}],"mark":{"type":"rule","strokeWidth":3.5,"color":"black","strokeCap":"square"},"encoding":{"x":{"datum":"Baseline"},"y":{"field":"ob","type":"quantitative"},"y2":{"field":"L1"}}},
 {"data":{"name":"br"},"transform":[{"filter":"datum.p==='G'"}],"mark":{"type":"rule","strokeWidth":3.5,"color":"black","strokeCap":"square"},"encoding":{"x":{"datum":"Resuscitation"},"y":{"field":"orr","type":"quantitative"},"y2":{"field":"L1"}}},
 {"data":{"name":"br"},"transform":[{"filter":"datum.p==='G'"}],"mark":{"type":"rule","strokeWidth":3.5,"color":"black","strokeCap":"square","x2Offset":-7},"encoding":{"x":{"datum":"Baseline"},"x2":{"datum":"Shock"},"y":{"field":"L2","type":"quantitative"}}},
 {"data":{"name":"br"},"transform":[{"filter":"datum.p==='G'"}],"mark":{"type":"rule","strokeWidth":3.5,"color":"black","strokeCap":"square"},"encoding":{"x":{"datum":"Baseline"},"y":{"field":"ib","type":"quantitative"},"y2":{"field":"L2"}}},
 {"data":{"name":"br"},"transform":[{"filter":"datum.p==='G'"}],"mark":{"type":"rule","strokeWidth":3.5,"color":"black","strokeCap":"square","xOffset":-7},"encoding":{"x":{"datum":"Shock"},"y":{"field":"isl","type":"quantitative"},"y2":{"field":"L2"}}},
 {"data":{"name":"br"},"transform":[{"filter":"datum.p==='G'"}],"mark":{"type":"rule","strokeWidth":3.5,"color":"black","strokeCap":"square","xOffset":7},"encoding":{"x":{"datum":"Shock"},"x2":{"datum":"Resuscitation"},"y":{"field":"L2","type":"quantitative"}}},
 {"data":{"name":"br"},"transform":[{"filter":"datum.p==='G'"}],"mark":{"type":"rule","strokeWidth":3.5,"color":"black","strokeCap":"square","xOffset":7},"encoding":{"x":{"datum":"Shock"},"y":{"field":"isr","type":"quantitative"},"y2":{"field":"L2"}}},
 {"data":{"name":"br"},"transform":[{"filter":"datum.p==='G'"}],"mark":{"type":"rule","strokeWidth":3.5,"color":"black","strokeCap":"square"},"encoding":{"x":{"datum":"Resuscitation"},"y":{"field":"ir","type":"quantitative"},"y2":{"field":"L2"}}},
 {"data":{"name":"br"},"transform":[{"filter":"datum.p==='G'"}],"mark":{"type":"text","font":"Liberation Sans","fontSize":25,"color":"black","align":"center","baseline":"middle"},"encoding":{"x":{"datum":"Shock"},"y":{"field":"t1","type":"quantitative"},"text":{"field":"p1"}}},
 {"data":{"name":"br"},"transform":[{"filter":"datum.p==='G'"}],"mark":{"type":"text","font":"Liberation Sans","fontSize":25,"color":"black","align":"center","baseline":"middle"},"encoding":{"x":{"datum":"Baseline","bandPosition":1},"y":{"field":"t2","type":"quantitative"},"text":{"field":"p2"}}},
 {"data":{"name":"br"},"transform":[{"filter":"datum.p==='G'"}],"mark":{"type":"text","font":"Liberation Sans","fontSize":25,"color":"black","align":"center","baseline":"middle"},"encoding":{"x":{"datum":"Shock","bandPosition":1},"y":{"field":"t2","type":"quantitative"},"text":{"field":"p3"}}}
]}
]
}
